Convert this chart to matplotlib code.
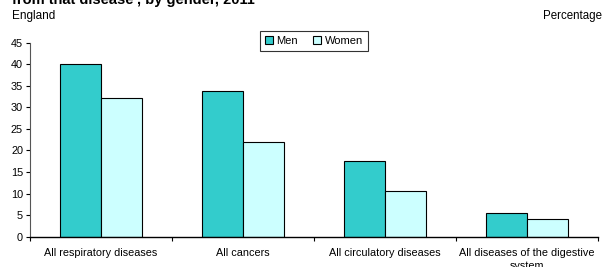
import numpy as np
import matplotlib
matplotlib.use("Agg")
import matplotlib.pyplot as plt

plt.rcParams['font.family'] = ['Liberation Sans', 'DejaVu Sans']

categories = ["All respiratory diseases", "All cancers",
              "All circulatory diseases",
              "All diseases of the digestive\nsystem"]
men = [40.0, 33.8, 17.5, 5.6]
women = [32.1, 21.9, 10.5, 4.1]
yticks = [0, 5, 10, 15, 20, 25, 30, 35, 40, 45]

W, H = 607, 267
fig = plt.figure(figsize=(W / 100, H / 100), dpi=100)
ax = fig.add_axes([30 / W, (H - 236.7) / H, 568 / W, 194 / H])

x = np.arange(len(categories))
bw = 0.29
ax.bar(x - bw / 2, men, bw, color='#33CCCC', edgecolor='black',
       linewidth=0.8, label='Men')
ax.bar(x + bw / 2, women, bw, color='#CCFFFF', edgecolor='black',
       linewidth=0.8, label='Women')

ax.set_xlim(-0.5, len(categories) - 0.5)
ax.set_ylim(0, 45)
ax.set_yticks(yticks)
ax.set_yticklabels([str(v) for v in yticks], fontsize=7.8)
ax.set_xticks(x)
ax.set_xticklabels(categories, fontsize=7.8, linespacing=1.35)
ax.set_xticks(np.arange(len(categories) + 1) - 0.5, minor=True)
ax.tick_params(axis='x', which='major', length=0, pad=8)
ax.tick_params(axis='x', which='minor', length=3, width=0.8)
ax.tick_params(axis='y', length=3, width=0.8, pad=2)

for s in ['top', 'right']:
    ax.spines[s].set_visible(False)
ax.spines['left'].set_color('#555555')
ax.spines['left'].set_linewidth(0.8)
ax.spines['bottom'].set_linewidth(1.0)

leg = ax.legend(loc='upper center', bbox_to_anchor=(0.5, 1.09), ncol=2,
                fontsize=8, frameon=True, fancybox=False, edgecolor='black',
                handlelength=0.7, handleheight=0.7, handletextpad=0.3,
                columnspacing=1.4, borderpad=0.45)
leg.get_frame().set_linewidth(0.8)

fig.text(12 / W, 1 - 4 / H, "from that disease', by gender, 2011",
         fontsize=10.5, fontweight='bold', va='baseline', ha='left')
fig.text(12 / W, 1 - 19 / H, "England", fontsize=8.5, va='baseline', ha='left')
fig.text(602 / W, 1 - 19 / H, "Percentage", fontsize=8.3, va='baseline',
         ha='right')

fig.savefig("out.png", dpi=100)
